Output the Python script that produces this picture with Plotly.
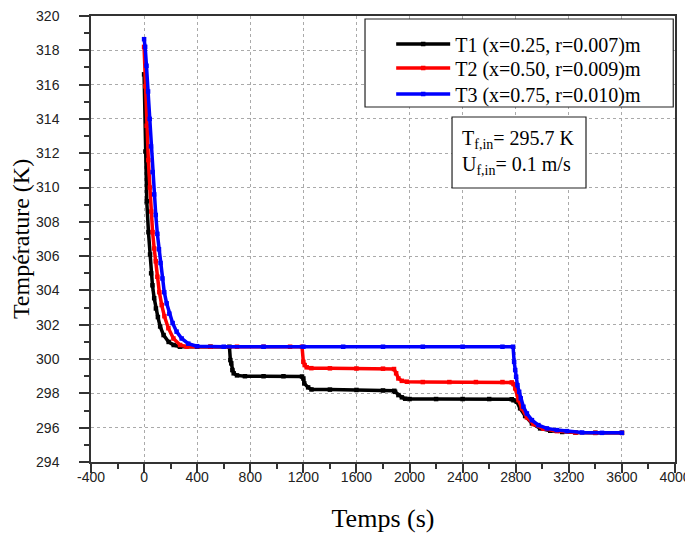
import plotly.graph_objects as go

# ---- data ----
t1_time = [0, 10, 20, 33, 45, 53, 63, 76, 89, 104, 121, 147, 185, 223, 270, 400, 500, 643,
           650, 657, 665, 675, 700, 760, 900, 1050, 1190, 1200, 1207, 1236, 1261, 1400, 1600,
           1800, 1885, 1891, 1916, 1942, 1967, 2000, 2200, 2400, 2600, 2770, 2783, 2808, 2833,
           2871, 2922, 2984, 3060, 3150, 3250, 3400, 3600]
t1_temp = [316.6, 312.1, 309.2, 307.4, 306.1, 305.0, 304.3, 303.55, 302.95, 302.45, 301.9, 301.4,
           301.0, 300.82, 300.72, 300.72, 300.72, 300.72, 299.94, 299.75, 299.36, 299.17, 299.05,
           299.0, 299.0, 299.0, 298.98, 298.87, 298.58, 298.35, 298.23, 298.22, 298.2, 298.17,
           298.15, 298.09, 297.9, 297.77, 297.69, 297.67, 297.67, 297.67, 297.67, 297.66, 297.6,
           297.51, 297.13, 296.68, 296.25, 295.96, 295.82, 295.75, 295.72, 295.7, 295.7]

t2_time = [0, 10, 20, 32, 44, 54, 64, 76, 88, 100, 115, 133, 153, 183, 221, 271, 320, 500, 700,
           900, 1100, 1190, 1200, 1210, 1225, 1260, 1400, 1600, 1800, 1883, 1899, 1916, 1942,
           1980, 2100, 2300, 2500, 2700, 2770, 2783, 2796, 2821, 2846, 2884, 2934, 3009, 3110,
           3250, 3400, 3600]
t2_temp = [318.2, 315.9, 313.6, 311.6, 310.0, 308.6, 307.4, 306.45, 305.7, 304.8, 303.9, 303.15,
           302.5, 301.8, 301.2, 300.82, 300.72, 300.72, 300.72, 300.72, 300.72, 300.72, 299.84,
           299.65, 299.52, 299.47, 299.46, 299.45, 299.44, 299.42, 299.17, 298.87, 298.73,
           298.68, 298.66, 298.66, 298.66, 298.66, 298.64, 298.55, 298.29, 297.61, 297.13,
           296.6, 296.21, 295.94, 295.8, 295.72, 295.7, 295.7]

t3_time = [0, 8, 18, 30, 42, 52, 64, 76, 88, 100, 112, 124, 138, 152, 170, 190, 215, 245, 283,
           333, 398, 600, 900, 1200, 1500, 1800, 2100, 2400, 2700, 2780, 2788, 2796, 2803, 2813,
           2826, 2838, 2858, 2884, 2922, 2971, 3035, 3110, 3185, 3300, 3450, 3600]
t3_temp = [318.65, 318.2, 317.1, 315.6, 314.0, 312.4, 310.9, 309.6, 308.4, 307.3, 306.4, 305.6,
           304.7, 303.9, 303.25, 302.65, 302.1, 301.6, 301.2, 300.9, 300.75, 300.72, 300.72,
           300.72, 300.72, 300.72, 300.72, 300.72, 300.72, 300.72, 299.84, 299.36, 298.97,
           298.48, 298.09, 297.71, 297.22, 296.83, 296.44, 296.15, 295.96, 295.86, 295.8, 295.72,
           295.7, 295.7]

series_names = ["T1 (x=0.25, r=0.007)m", "T2 (x=0.50, r=0.009)m", "T3 (x=0.75, r=0.010)m"]
series_colors = ["#000000", "#ff0000", "#0000ff"]

x_ticks = [-400, 0, 400, 800, 1200, 1600, 2000, 2400, 2800, 3200, 3600, 4000]
x_tick_labels = ["-400", "0", "400", "800", "1200", "1600", "2000", "2400", "2800", "3200", "3600", "4000"]
y_ticks = [294, 296, 298, 300, 302, 304, 306, 308, 310, 312, 314, 316, 318, 320]

serif = "Liberation Serif, Times New Roman, serif"
sans = "Liberation Sans, Arial, sans-serif"

legend_ids = ["legend", "legend2", "legend3"]
legend_ys = [0.9372, 0.8834, 0.8251]

fig = go.Figure()
for tt, yy, nm, col, lg in zip([t1_time, t2_time, t3_time], [t1_temp, t2_temp, t3_temp],
                               series_names, series_colors, legend_ids):
    fig.add_trace(go.Scatter(
        x=tt, y=yy, name=nm, mode="lines+markers", legend=lg,
        line=dict(color=col, width=3.5),
        marker=dict(symbol="square", size=4.5, color=col),
    ))

axis_common = dict(
    showline=True, linecolor="#333333", linewidth=1.5, mirror=True,
    ticks="outside", tickcolor="#333333", tickwidth=1.5,
    showgrid=True, gridcolor="#aaaaaa", griddash="dot", gridwidth=1,
    zeroline=False, automargin=False, ticklabeloverflow="allow",
    tickfont=dict(family=sans, size=14, color="#222222"),
)

legend_common = dict(
    x=0.514, xanchor="left", yanchor="middle",
    bgcolor="rgba(0,0,0,0)", borderwidth=0,
    font=dict(family=serif, size=20, color="#000000"),
    itemwidth=54,
)

# the page adds an 8px body margin, so the figure is sized to fit the window
fig.update_layout(
    width=685, height=527,
    margin=dict(l=83, r=18, t=8, b=73),
    paper_bgcolor="white", plot_bgcolor="white",
    showlegend=True,
    legend=dict(y=legend_ys[0], **legend_common),
    legend2=dict(y=legend_ys[1], **legend_common),
    legend3=dict(y=legend_ys[2], **legend_common),
    xaxis=dict(
        range=[-400, 4000], tickvals=x_ticks, ticktext=x_tick_labels, ticklen=9,
        ticklabelstandoff=-8,
        minor=dict(dtick=200, tick0=-400, ticks="outside", ticklen=5, tickcolor="#333333", showgrid=False),
        title=dict(text="Temps (s)", font=dict(family=serif, size=26, color="#000000"), standoff=25),
        **axis_common,
    ),
    yaxis=dict(
        range=[294, 320], tickvals=y_ticks, ticklen=10, ticklabelstandoff=17,
        minor=dict(dtick=1, tick0=294, ticks="outside", ticklen=5, tickcolor="#333333", showgrid=False),
        title=dict(text="Température (K)", font=dict(family=serif, size=24, color="#000000"), standoff=1),
        **axis_common,
    ),
    shapes=[
        dict(type="rect", xref="paper", yref="paper", x0=0.4692, x1=0.997, y0=0.796, y1=0.9933,
             line=dict(color="#222222", width=1.2), fillcolor="white", layer="above"),
        dict(type="rect", xref="paper", yref="paper", x0=0.6182, x1=0.8476, y0=0.6143, y1=0.7735,
             line=dict(color="#222222", width=1.2), fillcolor="white", layer="above"),
    ],
    annotations=[
        dict(xref="paper", yref="paper", x=0.632, y=0.693, xanchor="left", yanchor="middle",
             align="left", showarrow=False,
             text="T<sub>f,in</sub>= 295.7 K<br>U<sub>f,in</sub>= 0.1 m/s",
             font=dict(family=serif, size=20, color="#000000")),
    ],
)

fig.write_html("out.html")
